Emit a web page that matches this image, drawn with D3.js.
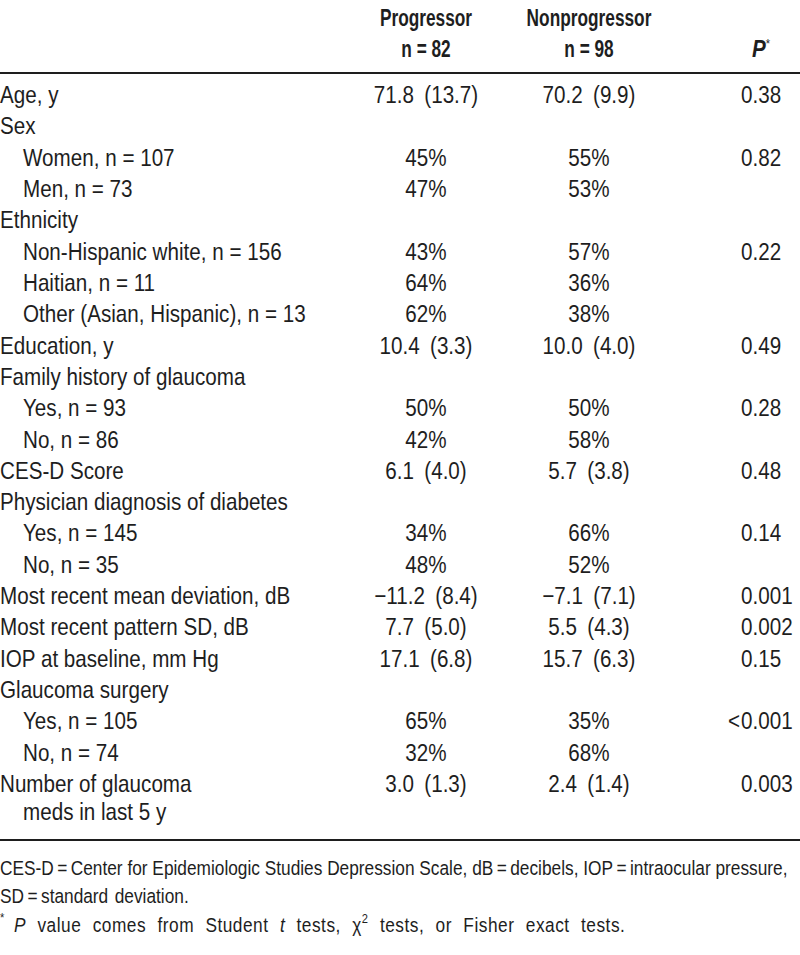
<!DOCTYPE html>
<html>
<head>
<meta charset="utf-8">
<script src="https://cdn.jsdelivr.net/npm/d3@7"></script>
<style>
  body { margin: 0; background: #fff; }
  text { font-family: "Liberation Sans", Arial, sans-serif; fill: #1e1e1e; }
</style>
</head>
<body>
<svg id="table" width="800" height="955"></svg>
<script>
// table content
var groupNames = ["Progressor", "Nonprogressor"];
var groupSizes = ["n = 82", "n = 98"];

var rowLabels = [
  "Age, y", "Sex", "Women, n = 107", "Men, n = 73",
  "Ethnicity", "Non-Hispanic white, n = 156", "Haitian, n = 11",
  "Other (Asian, Hispanic), n = 13", "Education, y", "Family history of glaucoma",
  "Yes, n = 93", "No, n = 86", "CES-D Score", "Physician diagnosis of diabetes",
  "Yes, n = 145", "No, n = 35", "Most recent mean deviation, dB",
  "Most recent pattern SD, dB", "IOP at baseline, mm Hg", "Glaucoma surgery",
  "Yes, n = 105", "No, n = 74", "Number of glaucoma|meds in last 5 y"
];
var rowLevel = [0, 0, 1, 1, 0, 1, 1, 1, 0, 0, 1, 1, 0, 0, 1, 1, 0, 0, 0, 0, 1, 1, 0];
var progressor = [
  "71.8 (13.7)", "", "45%", "47%", "", "43%", "64%", "62%", "10.4 (3.3)", "",
  "50%", "42%", "6.1 (4.0)", "", "34%", "48%", "\u221211.2 (8.4)", "7.7 (5.0)",
  "17.1 (6.8)", "", "65%", "32%", "3.0 (1.3)"
];
var nonprogressor = [
  "70.2 (9.9)", "", "55%", "53%", "", "57%", "36%", "38%", "10.0 (4.0)", "",
  "50%", "58%", "5.7 (3.8)", "", "66%", "52%", "\u22127.1 (7.1)", "5.5 (4.3)",
  "15.7 (6.3)", "", "35%", "68%", "2.4 (1.4)"
];
var pValues = [
  "0.38", "", "0.82", "", "", "0.22", "", "", "0.49", "",
  "0.28", "", "0.48", "", "0.14", "", "0.001", "0.002",
  "0.15", "", "<0.001", "", "0.003"
];

var svg = d3.select("#table");

// condensed look: Liberation Sans squeezed horizontally
var SX = 0.86, SXB = 0.72;
function tr(x, y, s) { return "translate(" + x + "," + y + ") scale(" + s + ",1)"; }
function tidyValue(s) { return s.replace(" (", "\u2002("); }
function tidyNote(s) { return s.replace(/ = /g, "\u2009=\u2009"); }

var y = d3.scaleLinear().domain([0, rowLabels.length - 1]).range([103, 792]);
var labelX = d3.scaleOrdinal().domain([0, 1]).range([0, 23]);
var colX = d3.scaleOrdinal().domain(["prog", "nonprog"]).range([426, 589]);
var pX = 741;

// header
var head = svg.append("g").attr("font-weight", "bold").attr("font-size", "24px");
head.selectAll("text.group")
  .data(groupNames)
  .enter().append("text")
  .attr("class", "group")
  .attr("transform", function(d, i) { return tr(colX(i ? "nonprog" : "prog"), 26, SXB); })
  .attr("text-anchor", "middle")
  .text(function(d) { return d; });
head.selectAll("text.size")
  .data(groupSizes)
  .enter().append("text")
  .attr("class", "size")
  .attr("transform", function(d, i) { return tr(colX(i ? "nonprog" : "prog"), 57, SXB); })
  .attr("text-anchor", "middle")
  .text(function(d) { return d; });
var pHead = head.append("text").attr("transform", tr(752, 57, 0.86));
pHead.append("tspan").attr("font-style", "italic").text("P");
pHead.append("tspan").attr("font-size", "13px").attr("font-weight", "normal").attr("dy", -9).text("*");

// rules
svg.append("line").attr("x1", 0).attr("x2", 800).attr("y1", 73).attr("y2", 73)
  .attr("stroke", "#1e1e1e").attr("stroke-width", 2);
svg.append("line").attr("x1", 0).attr("x2", 800).attr("y1", 840).attr("y2", 840)
  .attr("stroke", "#1e1e1e").attr("stroke-width", 2);

// body rows
var rows = svg.append("g").attr("font-size", "24px")
  .selectAll("g")
  .data(rowLabels)
  .enter().append("g")
  .attr("transform", function(d, i) { return "translate(0," + y(i) + ")"; });

rows.each(function(d, i) {
  var g = d3.select(this);
  d.split("|").forEach(function(line, k) {
    g.append("text")
      .attr("transform", tr(k ? labelX(1) : labelX(rowLevel[i]), k * 28, SX))
      .text(line);
  });
});

rows.append("text")
  .attr("transform", tr(colX("prog"), 0, SX))
  .attr("text-anchor", "middle")
  .text(function(d, i) { return tidyValue(progressor[i]); });

rows.append("text")
  .attr("transform", tr(colX("nonprog"), 0, SX))
  .attr("text-anchor", "middle")
  .text(function(d, i) { return tidyValue(nonprogressor[i]); });

rows.append("text")
  .attr("transform", tr(pX, 0, SX))
  .text(function(d, i) { return pValues[i].replace("<", ""); });

rows.append("text")
  .attr("transform", tr(pX - 1, 0, SX))
  .attr("text-anchor", "end")
  .text(function(d, i) { return pValues[i].charAt(0) === "<" ? "<" : ""; });

// footnotes
var notes = svg.append("g").attr("font-size", "20.1px");
notes.append("text").attr("transform", tr(0, 875, SX))
  .text(tidyNote("CES-D = Center for Epidemiologic Studies Depression Scale, dB = decibels, IOP = intraocular pressure,"));
notes.append("text").attr("transform", tr(0, 903, SX))
  .attr("word-spacing", 2)
  .text(tidyNote("SD = standard deviation."));
var n3 = notes.append("text").attr("transform", tr(0, 932, SX))
  .attr("word-spacing", 7).attr("letter-spacing", 0.6);
n3.append("tspan").attr("font-size", "13px").attr("dy", -10).text("*");
n3.append("tspan").attr("dy", 10).text("\u2002");
n3.append("tspan").attr("font-style", "italic").text("P");
n3.append("tspan").text(" value comes from Student ");
n3.append("tspan").attr("font-style", "italic").text("t");
n3.append("tspan").text(" tests, \u03c7");
n3.append("tspan").attr("font-size", "13px").attr("dy", -9).text("2");
n3.append("tspan").attr("dy", 9).text(" tests, or Fisher exact tests.");
</script>
</body>
</html>
